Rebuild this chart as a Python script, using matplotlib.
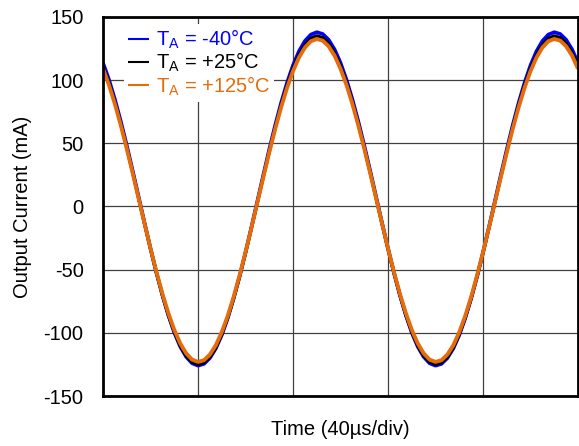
import numpy as np
import matplotlib
matplotlib.use("Agg")
import matplotlib.pyplot as plt

plt.rcParams['font.family'] = ['Liberation Sans', 'DejaVu Sans']
plt.rcParams['mathtext.fontset'] = 'custom'
plt.rcParams['mathtext.rm'] = 'Liberation Sans'
plt.rcParams['axes.unicode_minus'] = False

# time samples in us (40 us per division, 5 divisions)
time_us = np.linspace(0, 200, 81)

# output current (mA), one value per 2.5 us
i_m40 = [113.8, 100.5, 84.9, 67.4, 48.4, 28.3, 7.7, -13.0, -33.2, -52.4,
         -70.2, -86.1, -99.8, -110.9, -119.0, -124.1, -126.0, -124.6, -120.0, -112.4,
         -101.8, -88.5, -72.9, -55.4, -36.4, -16.3, 4.3, 25.0, 45.2, 64.4,
         82.2, 98.1, 111.8, 122.9, 131.0, 136.1, 138.0, 136.6, 132.0, 124.4,
         113.8, 100.5, 84.9, 67.4, 48.4, 28.3, 7.7, -13.0, -33.2, -52.4,
         -70.2, -86.1, -99.8, -110.9, -119.0, -124.1, -126.0, -124.6, -120.0, -112.4,
         -101.8, -88.5, -72.9, -55.4, -36.4, -16.3, 4.3, 25.0, 45.2, 64.4,
         82.2, 98.1, 111.8, 122.9, 131.0, 136.1, 138.0, 136.6, 132.0, 124.4,
         113.8]
i_25 = [111.1, 98.1, 82.7, 65.5, 46.7, 27.0, 6.6, -13.7, -33.6, -52.6,
        -70.1, -85.8, -99.2, -110.1, -118.1, -123.1, -125.0, -123.6, -119.1, -111.6,
        -101.1, -88.1, -72.7, -55.5, -36.7, -17.0, 3.4, 23.7, 43.6, 62.6,
        80.1, 95.8, 109.2, 120.1, 128.1, 133.1, 135.0, 133.6, 129.1, 121.6,
        111.1, 98.1, 82.7, 65.5, 46.7, 27.0, 6.6, -13.7, -33.6, -52.6,
        -70.1, -85.8, -99.2, -110.1, -118.1, -123.1, -125.0, -123.6, -119.1, -111.6,
        -101.1, -88.1, -72.7, -55.5, -36.7, -17.0, 3.4, 23.7, 43.6, 62.6,
        80.1, 95.8, 109.2, 120.1, 128.1, 133.1, 135.0, 133.6, 129.1, 121.6,
        111.1]
i_125 = [109.1, 96.3, 81.2, 64.2, 45.8, 26.4, 6.4, -13.6, -33.2, -51.8,
         -69.0, -84.4, -97.6, -108.3, -116.2, -121.2, -123.0, -121.7, -117.2, -109.8,
         -99.5, -86.7, -71.6, -54.6, -36.2, -16.8, 3.2, 23.2, 42.8, 61.4,
         78.6, 94.0, 107.2, 117.9, 125.8, 130.8, 132.6, 131.3, 126.8, 119.4,
         109.1, 96.3, 81.2, 64.2, 45.8, 26.4, 6.4, -13.6, -33.2, -51.8,
         -69.0, -84.4, -97.6, -108.3, -116.2, -121.2, -123.0, -121.7, -117.2, -109.8,
         -99.5, -86.7, -71.6, -54.6, -36.2, -16.8, 3.2, 23.2, 42.8, 61.4,
         78.6, 94.0, 107.2, 117.9, 125.8, 130.8, 132.6, 131.3, 126.8, 119.4,
         109.1]

labels = [r'T$_\mathrm{A}$ = -40°C', r'T$_\mathrm{A}$ = +25°C', r'T$_\mathrm{A}$ = +125°C']
colors = ['#0000FF', '#000000', '#E46C0A']
y_ticks = [-150, -100, -50, 0, 50, 100, 150]
x_grid = [0, 40, 80, 120, 160, 200]

fig = plt.figure(figsize=(5.79, 4.46), dpi=100)
ax = fig.add_axes([0.1779, 0.1121, 0.8204, 0.8498])

ax.plot(time_us, i_m40, color=colors[0], lw=2.6, label=labels[0], solid_capstyle='butt')
ax.plot(time_us, i_25, color=colors[1], lw=2.4, label=labels[1], solid_capstyle='butt')
ax.plot(time_us, i_125, color=colors[2], lw=2.8, label=labels[2], solid_capstyle='butt')

ax.set_xlim(0, 200)
ax.set_ylim(-150, 150)
ax.set_xticks(x_grid)
ax.set_xticklabels([])
ax.set_yticks(y_ticks)
ax.tick_params(axis='both', length=0, labelsize=14.5)
ax.tick_params(axis='y', pad=14)
ax.grid(True, color='#404040', lw=0.9)

for s in ax.spines.values():
    s.set_linewidth(2)
    s.set_color('black')

ax.set_ylabel('Output Current (mA)', fontsize=14.5, labelpad=8)
ax.set_xlabel('Time (40µs/div)', fontsize=14.5, labelpad=14)

leg = ax.legend(loc='upper left', bbox_to_anchor=(0.045, 0.982), fontsize=14.5,
                frameon=True, fancybox=False, framealpha=1, edgecolor='none',
                handlelength=1.0, handletextpad=0.35, labelspacing=0.0,
                borderpad=0.2, borderaxespad=0)
for txt, c in zip(leg.get_texts(), colors):
    txt.set_color(c)
for h in leg.get_lines():
    h.set_linewidth(1.5)

fig.savefig('out.png', dpi=100)
